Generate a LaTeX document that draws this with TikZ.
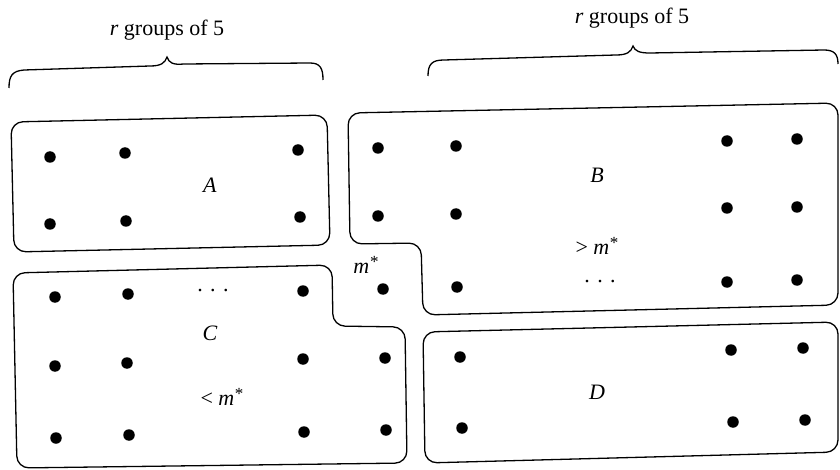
\documentclass[tikz,border=0pt]{standalone}
\usepackage{fontspec}
\setmainfont{Liberation Serif}
\newcommand{\mstar}{\textit{m}\kern0.03em\raisebox{0.28em}{\fontsize{17}{20}\selectfont *}}
\begin{document}
\begin{tikzpicture}[x=1pt,y=-1pt,
  box/.style={draw,line width=1.3pt,rounded corners=12pt},
  brc/.style={draw,line width=1.3pt},
  dot/.style={circle,fill=black,inner sep=0pt,minimum size=11.5pt},
  lab/.style={font=\fontsize{22}{26}\selectfont,inner sep=1pt}]
\useasboundingbox (0,0) rectangle (840,470);
% braces
\draw[brc] (9,88) .. controls (9,76) and (12,71) .. (24,70) -- (150,66)
  .. controls (161,66) and (165,63) .. (167,57)
  .. controls (169,63) and (173,65) .. (184,64) -- (310,63)
  .. controls (320,63) and (323,68) .. (323,80);
\draw[brc] (428,76) .. controls (428,64) and (432,60) .. (444,60) -- (616,55)
  .. controls (627,55) and (631,52) .. (633,46)
  .. controls (635,51) and (639,53) .. (650,53) -- (824,50)
  .. controls (834,50) and (838,54) .. (838,64);
\node[lab] (t1) at (167,30) {\textit{r} groups of 5};
\node[lab] (t2) at (632,18) {\textit{r} groups of 5};
% boxes
\draw[box] (11,122) -- (327,115) -- (330,245) -- (14,252) -- cycle;
\draw[box] (348,113) -- (838,103) -- (838,305) -- (423,315) -- (421,243) -- (350,244) -- cycle;
\draw[box] (13,273) -- (332,265) -- (333,326) -- (405,327) -- (407,463) -- (17,468) -- cycle;
\draw[box] (423,332) -- (838,322) -- (838,452) -- (425,463) -- cycle;
% A dots
\foreach \p/\n in {{(50,157)}/a1,{(125,153)}/a2,{(298,150)}/a3,{(50,224)}/a4,{(126,221)}/a5,{(300,217)}/a6}
  \node[dot] (\n) at \p {};
% B dots
\foreach \p/\n in {{(378,148)}/b1,{(456,146)}/b2,{(727,141)}/b3,{(797,139)}/b4,
  {(378,216)}/b5,{(456,214)}/b6,{(727,208)}/b7,{(797,207)}/b8,
  {(457,287)}/b9,{(727,282)}/b10,{(797,280)}/b11}
  \node[dot] (\n) at \p {};
% median dot
\node[dot] (m) at (383,289) {};
% C dots
\foreach \p/\n in {{(55,297)}/c1,{(128,294)}/c2,{(303,291)}/c3,
  {(55,366)}/c4,{(127,363)}/c5,{(303,359)}/c6,{(385,358)}/c7,
  {(56,438)}/c8,{(129,435)}/c9,{(304,432)}/c10,{(386,430)}/c11}
  \node[dot] (\n) at \p {};
% D dots
\foreach \p/\n in {{(460,357)}/d1,{(462,428)}/d2,{(731,350)}/d3,{(803,348)}/d4,{(733,422)}/d5,{(805,420)}/d6}
  \node[dot] (\n) at \p {};
% labels
\node[lab] (la) at (210,185) {\textit{A}};
\node[lab] (lb) at (597,175) {\textit{B}};
\node[lab] (lgt) at (597,246) {> \mstar};
\node[lab] (ldb) at (600,282) {.\,\,.\,\,.};
\node[lab] (lm) at (366,265) {\mstar};
\node[lab] (lc) at (210,333) {\textit{C}};
\node[lab] (llt) at (222,397) {< \mstar};
\node[lab] (ldc) at (213,291) {.\,\,.\,\,.};
\node[lab] (ld) at (597,392) {\textit{D}};
\end{tikzpicture}
\end{document}
